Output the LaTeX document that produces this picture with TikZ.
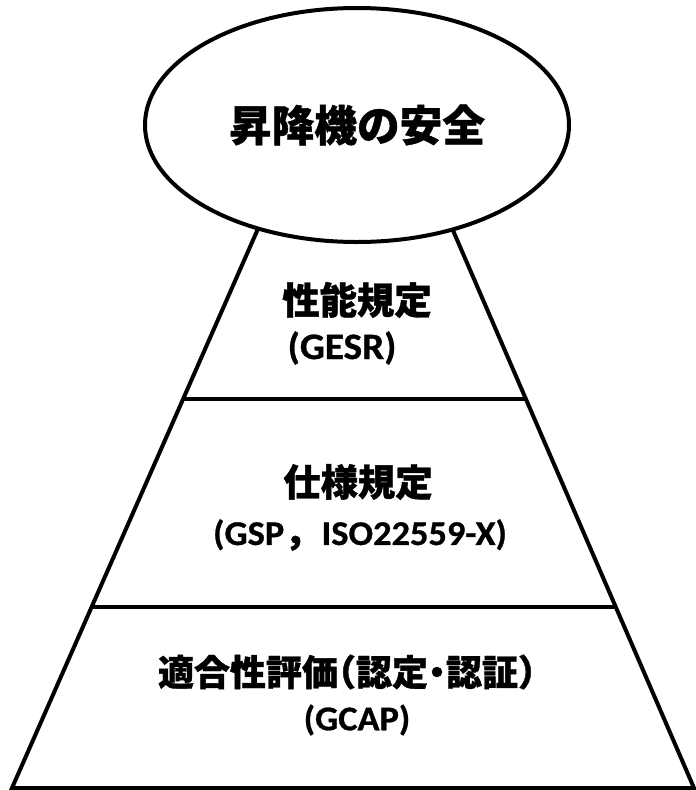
\documentclass[tikz,border=0pt]{standalone}
\usepackage{fontspec}
\usetikzlibrary{shapes.geometric,calc}
\newfontfamily\jpfont{Noto Sans CJK JP}[FakeBold=1]
\newfontfamily\jphalt{Noto Sans CJK JP}[RawFeature=+halt,FakeBold=1]
\newfontfamily\latfont{Carlito}[FakeStretch=1.05,FakeBold=0.8]
\begin{document}
\begin{tikzpicture}[x=0.75pt,y=-0.75pt,line width=3pt,
  jptitle/.style={font=\jpfont\bfseries\fontsize{32pt}{36pt}\selectfont,inner sep=0pt},
  jptext/.style={font=\jpfont\bfseries\fontsize{28pt}{32pt}\selectfont,inner sep=0pt},
  jphalftext/.style={font=\jphalt\bfseries\fontsize{27pt}{31pt}\selectfont,inner sep=0pt},
  lattext/.style={font=\latfont\bfseries\fontsize{26pt}{30pt}\selectfont,inner sep=0pt},
  layerline/.style={line width=3pt}]
\useasboundingbox (0,0) rectangle (696,790);
% pyramid (apex hidden behind the ellipse)
\coordinate (apex) at (356,6);
\coordinate (bl) at (12,788);
\coordinate (br) at (694,788);
\coordinate (tl) at ($(apex)!0.2!(bl)$);
\coordinate (tr) at ($(apex)!0.2!(br)$);
\draw[line join=miter] (tl) -- (bl) -- (br) -- (tr);
\coordinate (l1a) at ($(apex)!0.5026!(bl)$);
\coordinate (l1b) at ($(apex)!0.5026!(br)$);
\coordinate (l2a) at ($(apex)!0.7685!(bl)$);
\coordinate (l2b) at ($(apex)!0.7685!(br)$);
\draw[layerline] (l1a) -- (l1b);
\draw[layerline] (l2a) -- (l2b);
% top ellipse
\node[ellipse,draw,fill=white,minimum width=318pt,minimum height=175.5pt,inner sep=0pt,jptitle] (safety) at (357,125) {昇降機の安全};
% layer texts
\node[jptext] (gesrjp) at (357,300) {性能規定};
\node[lattext,font=\latfont\bfseries\fontsize{28pt}{32pt}\selectfont] (gesr) at (342,348) {(GESR)};
\node[jptext] (gspjp) at (358,482) {仕様規定};
\node[inner sep=0pt] (gsp) at (360,535) {{\latfont\bfseries\fontsize{26pt}{30pt}\selectfont (GSP}{\jphalt\bfseries\fontsize{28pt}{32pt}\selectfont ，}\hspace{14pt}{\latfont\bfseries\fontsize{26pt}{30pt}\selectfont ISO22559-X)}};
\node[jphalftext] (gcapjp) at (347,672) {適合性評価（認定・認証）};
\node[lattext] (gcap) at (357,720) {(GCAP)};
\end{tikzpicture}
\end{document}
